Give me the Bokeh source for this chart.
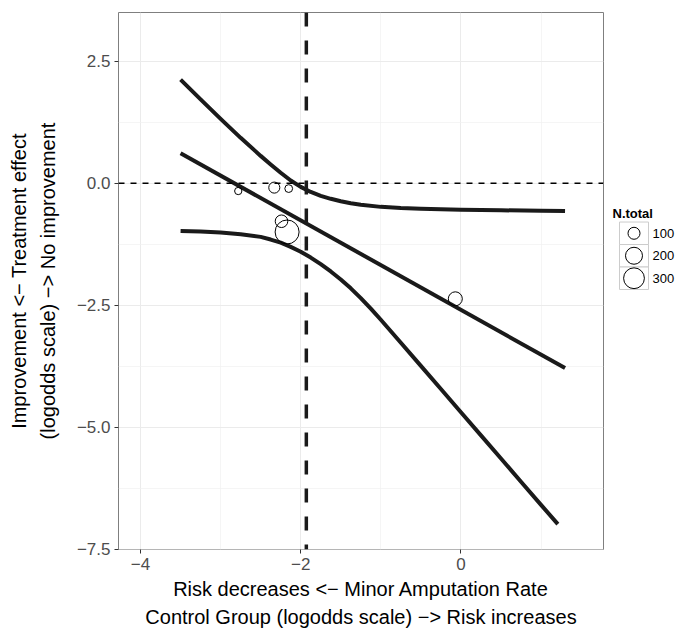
import numpy as np
from bokeh.plotting import figure
from bokeh.layouts import row
from bokeh.models import Range1d, FixedTicker, Span
from bokeh.core.properties import value
from bokeh.embed import file_html
from bokeh.resources import INLINE

FONT = "Liberation Sans"

# Trials: control-group minor amputation rate vs treatment effect (both log-odds)
trial_x = [-2.78, -2.33, -2.15, -2.24, -2.17, -0.07]
trial_y = [-0.16, -0.09, -0.11, -0.78, -1.00, -2.37]
trial_n = [37, 85, 42, 110, 400, 136]

# Meta-regression line and its credible band
fit_x = [-3.5, 1.30]
fit_y = [0.615, -3.79]

upper_x = [-3.5, -3.25, -3.0, -2.75, -2.5, -2.375, -2.25, -2.125, -2.0, -1.875,
           -1.75, -1.625, -1.5, -1.375, -1.25, -1.0, -0.75, -0.5, 0.0, 0.5,
           1.0, 1.30]
upper_y = [2.125, 1.72, 1.32, 0.93, 0.56, 0.385, 0.215, 0.055, -0.075, -0.18,
           -0.26, -0.32, -0.37, -0.41, -0.44, -0.485, -0.51, -0.525, -0.545, -0.555,
           -0.565, -0.57]

lower_x = [-3.5, -3.25, -3.0, -2.75, -2.5, -2.375, -2.25, -2.125, -2.0, -1.875,
           -1.75, -1.625, -1.5, -1.375, -1.25, -1.125, -1.0, -0.75, -0.5, -0.25,
           0.0, 0.25, 0.5, 0.75, 1.0, 1.21]
lower_y = [-0.98, -0.99, -1.01, -1.045, -1.10, -1.155, -1.22, -1.305, -1.405, -1.525,
           -1.66, -1.81, -1.975, -2.155, -2.355, -2.57, -2.80, -3.27, -3.745, -4.22,
           -4.695, -5.17, -5.645, -6.12, -6.595, -6.99]

cutoff_x = -1.93      # vertical reference line
null_effect = 0.0     # horizontal reference line

x_ticks = [-4, -2, 0]
x_minor = [-3, -1, 1]
x_labels = ["\u22124", "\u22122", "0"]
y_ticks = [2.5, 0.0, -2.5, -5.0, -7.5]
y_minor = [1.25, -1.25, -3.75, -6.25]
y_labels = ["2.5", "0.0", "\u22122.5", "\u22125.0", "\u22127.5"]

legend_n = [100, 200, 300]
legend_title = "N.total"

SIZE_K = 1.2  # marker diameter (px) per sqrt(N)

p = figure(width=610, height=633, x_range=Range1d(-4.275, 1.78),
           y_range=Range1d(-7.51, 3.50), output_backend="svg",
           toolbar_location=None, min_border_left=118, min_border_right=7,
           min_border_top=12, min_border_bottom=84)
p.background_fill_color = "white"
p.border_fill_color = "white"
p.outline_line_color = "#7f7f7f"
p.outline_line_width = 1

p.xaxis.ticker = FixedTicker(ticks=x_ticks, minor_ticks=x_minor)
p.yaxis.ticker = FixedTicker(ticks=y_ticks, minor_ticks=y_minor)
p.xaxis.major_label_overrides = dict(zip(x_ticks, x_labels))
p.yaxis.major_label_overrides = dict(zip(y_ticks, y_labels))

for ax in (p.xaxis, p.yaxis):
    ax.axis_line_color = None
    ax.major_tick_line_color = "#333333"
    ax.major_tick_out = 4
    ax.major_tick_in = 0
    ax.minor_tick_line_color = None
    ax.major_label_text_font = FONT
    ax.major_label_text_font_size = "17px"
    ax.major_label_text_color = "#4d4d4d"
    ax.axis_label_text_font = FONT
    ax.axis_label_text_font_size = "20px"
    ax.axis_label_text_line_height = 1.3
    ax.axis_label_text_font_style = "normal"
    ax.axis_label_text_color = "black"

p.xaxis.axis_label = ("Risk decreases <\u2212 Minor Amputation Rate\n"
                      "Control Group (logodds scale) \u2212> Risk increases")
p.yaxis.axis_label = ("Improvement <\u2212 Treatment effect\n"
                      "(logodds scale) \u2212> No improvement")
p.xaxis.major_label_standoff = 4
p.yaxis.major_label_standoff = 4
p.xaxis.axis_label_standoff = 5
p.yaxis.axis_label_standoff = 15

for g in (p.xgrid, p.ygrid):
    g.grid_line_color = "#ebebeb"
    g.grid_line_width = 1
    g.minor_grid_line_color = "#f0f0f0"
    g.minor_grid_line_width = 0.7

p.add_layout(Span(location=null_effect, dimension="width", line_color="black",
                  line_width=1.4, line_dash="6 6"))
p.add_layout(Span(location=cutoff_x, dimension="height", line_color="#1a1a1a",
                  line_width=3.5, line_dash="14 14"))

for xs, ys in ((upper_x, upper_y), (fit_x, fit_y), (lower_x, lower_y)):
    p.line(xs, ys, line_color="#1a1a1a", line_width=4, line_cap="butt",
           line_join="round")

sizes = [SIZE_K * np.sqrt(n) for n in trial_n]
p.scatter(trial_x, trial_y, size=sizes, fill_color=None, line_color="black",
          line_width=1)

# legend panel drawn in pixel coordinates
leg = figure(width=66, height=633, x_range=Range1d(0, 66), y_range=Range1d(633, 0),
             output_backend="svg", toolbar_location=None, x_axis_type=None,
             y_axis_type=None, min_border=0)
leg.outline_line_color = None
leg.grid.visible = False

key_left, key_w, key_h, key_top = 9, 29, 26.5, 247
rows_y = [key_top + key_h * (i + 0.5) for i in range(len(legend_n))]
leg.rect([key_left + key_w / 2] * len(legend_n), rows_y, width=key_w, height=key_h,
         fill_color="white", line_color="#cccccc", line_width=1)
leg.scatter([key_left + key_w / 2] * len(legend_n), rows_y,
            size=[SIZE_K * np.sqrt(n) for n in legend_n], fill_color=None,
            line_color="black", line_width=1)
leg.text([key_left + key_w + 4] * len(legend_n), rows_y,
         text=[str(n) for n in legend_n], text_font=value(FONT),
         text_font_size="13px", text_baseline="middle", text_align="left",
         text_color="black")
leg.text([2], [237], text=[legend_title], text_font=value(FONT),
         text_font_size="13px", text_font_style="bold", text_baseline="middle",
         text_align="left", text_color="black")

layout = row(p, leg)
open("out.html", "w").write(file_html(layout, INLINE))
